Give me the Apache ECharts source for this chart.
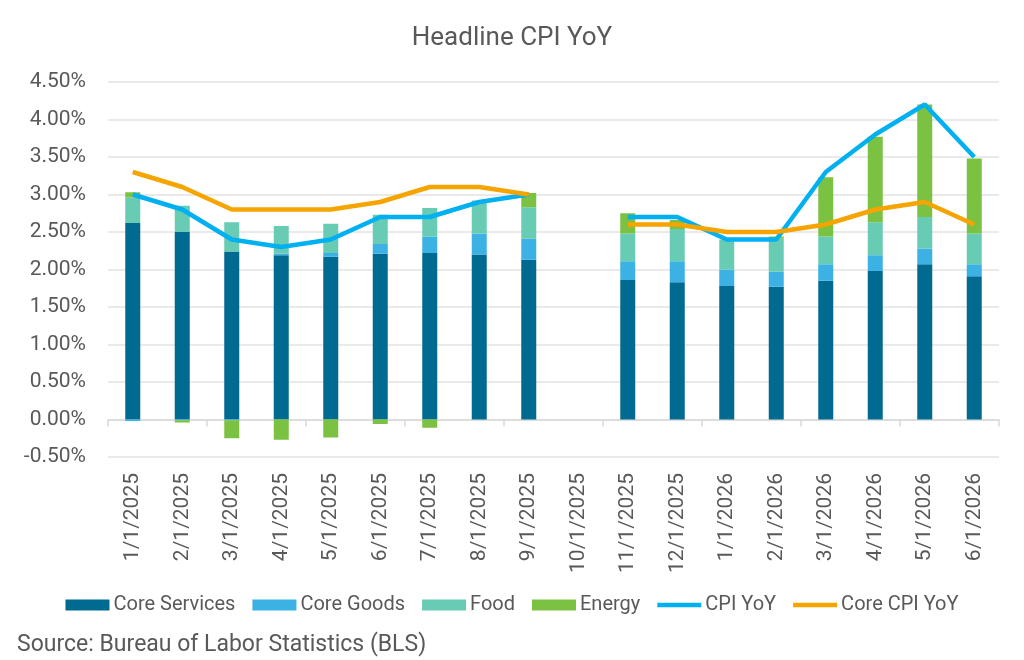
<!DOCTYPE html>
<html>
<head>
<meta charset="utf-8">
<script src="https://cdn.jsdelivr.net/npm/echarts@6/dist/echarts.min.js"></script>
<style>
html,body{margin:0;padding:0;background:#fff;}
#c{width:1024px;height:660px;}
</style>
</head>
<body>
<div id="c"></div>
<script>
var categories = ['1/1/2025','2/1/2025','3/1/2025','4/1/2025','5/1/2025','6/1/2025','7/1/2025','8/1/2025','9/1/2025','10/1/2025','11/1/2025','12/1/2025','1/1/2026','2/1/2026','3/1/2026','4/1/2026','5/1/2026','6/1/2026'];
var coreServices = [2.62, 2.50, 2.24, 2.19, 2.17, 2.21, 2.22, 2.20, 2.13, null, 1.86, 1.83, 1.78, 1.77, 1.85, 1.98, 2.07, 1.91];
var coreGoods    = [-0.02, -0.01, -0.01, 0.02, 0.05, 0.13, 0.22, 0.28, 0.28, null, 0.25, 0.28, 0.22, 0.20, 0.22, 0.21, 0.21, 0.16];
var food         = [0.34, 0.35, 0.39, 0.37, 0.39, 0.39, 0.38, 0.44, 0.42, null, 0.37, 0.43, 0.40, 0.44, 0.37, 0.44, 0.42, 0.41];
var energy       = [0.07, -0.03, -0.24, -0.27, -0.24, -0.06, -0.11, 0.00, 0.19, null, 0.27, 0.12, 0.00, 0.03, 0.79, 1.14, 1.50, 1.00];
var cpiYoY       = [3.0, 2.8, 2.4, 2.3, 2.4, 2.7, 2.7, 2.9, 3.0, null, 2.7, 2.7, 2.4, 2.4, 3.3, 3.8, 4.2, 3.5];
var coreCpiYoY   = [3.3, 3.1, 2.8, 2.8, 2.8, 2.9, 3.1, 3.1, 3.0, null, 2.6, 2.6, 2.5, 2.5, 2.6, 2.8, 2.9, 2.6];
var yMin = -0.5, yMax = 4.5, yInterval = 0.5;

var FONT = 'Roboto';
var TXT = '#595959';
var LINE_ICON = 'path://M0,0 L48,0 L48,5 L0,5 Z';
var chart = echarts.init(document.getElementById('c'), null, {renderer:'canvas'});

function bar(name, data, color){
  return {name:name, type:'bar', stack:'cpi', data:data, barWidth:15,
    itemStyle:{color:color}, xAxisIndex:0};
}
function line(name, data, color){
  return {name:name, type:'line', data:data, symbol:'none', showSymbol:false,
    connectNulls:false, lineStyle:{color:color, width:4.5}, itemStyle:{color:color}, xAxisIndex:0};
}

chart.setOption({
  animation:false,
  backgroundColor:'#fff',
  title:{text:'Headline CPI YoY', left:'center', top:20,
    textStyle:{fontFamily:FONT, fontSize:26, fontWeight:'normal', color:TXT}},
  graphic:[{type:'text', left:17, top:634,
    style:{text:'Source: Bureau of Labor Statistics (BLS)', fontFamily:FONT, fontSize:23, fill:TXT}}],
  legend:{left:'center', top:590, itemWidth:44, itemHeight:11, itemGap:17,
    textStyle:{fontFamily:FONT, fontSize:20, color:TXT, padding:[0,0,0,-1]},
    data:[
      {name:'Core Services', icon:'rect'},
      {name:'Core Goods', icon:'rect'},
      {name:'Food', icon:'rect'},
      {name:'Energy', icon:'rect'},
      {name:'CPI YoY', icon:LINE_ICON},
      {name:'Core CPI YoY', icon:LINE_ICON}
    ]},
  grid:{left:108, right:25, top:82, bottom:203},
  xAxis:[
    {type:'category', data:categories, position:'bottom', boundaryGap:true,
      axisLine:{show:false, onZero:false}, axisTick:{show:false},
      axisLabel:{rotate:90, margin:16, fontFamily:FONT, fontSize:21, color:TXT, interval:0}},
    {type:'category', data:categories, position:'bottom', boundaryGap:true,
      axisLine:{show:true, onZero:true, lineStyle:{color:'#d9d9d9', width:1.5}},
      axisTick:{show:true, length:7, lineStyle:{color:'#d9d9d9', width:1.5}},
      axisLabel:{show:false}}
  ],
  yAxis:{type:'value', min:yMin, max:yMax, interval:yInterval,
    axisLine:{show:false}, axisTick:{show:false},
    splitLine:{lineStyle:{color:'#e3e3e3', width:1.5}},
    axisLabel:{margin:22, fontFamily:FONT, fontSize:21, color:TXT,
      formatter:function(v){return v.toFixed(2)+'%';}}},
  series:[
    bar('Core Services', coreServices, '#006A91'),
    bar('Core Goods', coreGoods, '#3BB1E4'),
    bar('Food', food, '#67CCB3'),
    bar('Energy', energy, '#7BC142'),
    line('CPI YoY', cpiYoY, '#00B0F0'),
    line('Core CPI YoY', coreCpiYoY, '#F5A400')
  ]
});
</script>
</body>
</html>
